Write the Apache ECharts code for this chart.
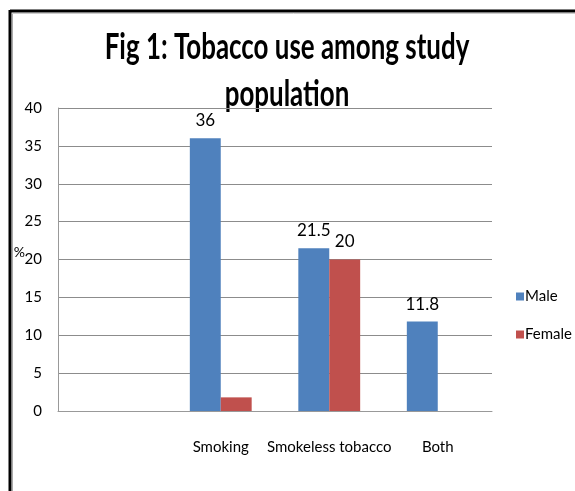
<!DOCTYPE html>
<html>
<head>
<meta charset="utf-8">
<script src="https://cdn.jsdelivr.net/npm/echarts@6/dist/echarts.min.js"></script>
<style>
  html, body { margin: 0; padding: 0; background: #fff; }
  #chart { width: 575px; height: 491px; }
</style>
</head>
<body>
<div id="chart"></div>
<script>
// Tobacco use among the study population, by sex (%)
const categories = ['', 'Smoking', 'Smokeless tobacco', 'Both'];
const maleValues = [null, 36, 21.5, 11.8];
const femaleValues = [null, 1.8, 20, null];
const yTicks = { min: 0, max: 40, interval: 5 };
const titleLines = ['Fig 1: Tobacco use among study', 'population'];

const FONT = 'Lato, "Open Sans", sans-serif';

// Narrow, tall title lines
const titleText = (text, y) => ({
  type: 'text',
  x: 287,
  y: y,
  scaleX: 0.72,
  style: {
    text: text,
    fontFamily: FONT,
    fontSize: 36,
    fontWeight: 'bold',
    fill: '#000',
    align: 'center',
    verticalAlign: 'middle'
  }
});

const chart = echarts.init(document.getElementById('chart'));
chart.setOption({
  animation: false,
  backgroundColor: '#fff',
  legend: {
    orient: 'vertical',
    left: 511,
    top: 284,
    itemWidth: 8,
    itemHeight: 8,
    itemGap: 23,
    icon: 'rect',
    textStyle: { fontFamily: FONT, fontSize: 15, color: '#000', padding: [0, 0, 0, -4] },
    data: ['Male', 'Female']
  },
  grid: { left: 58, right: 83, top: 108, bottom: 80 },
  xAxis: {
    type: 'category',
    data: categories,
    axisLine: { lineStyle: { color: '#999' } },
    axisTick: { show: false },
    axisLabel: { interval: 0, fontFamily: FONT, fontSize: 15, color: '#000', margin: 29 }
  },
  yAxis: {
    type: 'value',
    min: yTicks.min,
    max: yTicks.max,
    interval: yTicks.interval,
    name: '%',
    nameLocation: 'middle',
    nameRotate: 0,
    nameGap: 33,
    nameMoveOverlap: false,
    nameTextStyle: { fontFamily: FONT, fontSize: 14, color: '#000', verticalAlign: 'bottom' },
    axisLine: { show: true, lineStyle: { color: '#999' } },
    axisTick: { show: false },
    axisLabel: { fontFamily: FONT, fontSize: 15, color: '#000', margin: 16 },
    splitLine: { lineStyle: { color: '#8c8c8c' } }
  },
  series: [
    {
      name: 'Male',
      type: 'bar',
      data: maleValues,
      barGap: '0%',
      barCategoryGap: '43%',
      itemStyle: { color: '#4f81bd' },
      label: {
        show: true,
        position: 'top',
        distance: 9,
        fontFamily: FONT,
        fontSize: 17,
        color: '#000'
      }
    },
    {
      name: 'Female',
      type: 'bar',
      data: femaleValues,
      itemStyle: { color: '#c0504d' },
      label: {
        show: true,
        position: 'top',
        distance: 9,
        fontFamily: FONT,
        fontSize: 17,
        color: '#000',
        formatter: p => (p.value >= 5 ? p.value : '')
      }
    }
  ],
  graphic: [
    { type: 'line', shape: { x1: 10, y1: 11, x2: 575, y2: 11 }, style: { stroke: '#000', lineWidth: 3 } },
    { type: 'line', shape: { x1: 10, y1: 10, x2: 10, y2: 491 }, style: { stroke: '#000', lineWidth: 3 } },
    { type: 'line', shape: { x1: 12.5, y1: 13, x2: 12.5, y2: 491 }, style: { stroke: '#aaa', lineWidth: 1 } },
    { type: 'line', shape: { x1: 12, y1: 13.5, x2: 575, y2: 13.5 }, style: { stroke: '#ccc', lineWidth: 1 } },
    titleText(titleLines[0], 47),
    titleText(titleLines[1], 94)
  ]
});
</script>
</body>
</html>
